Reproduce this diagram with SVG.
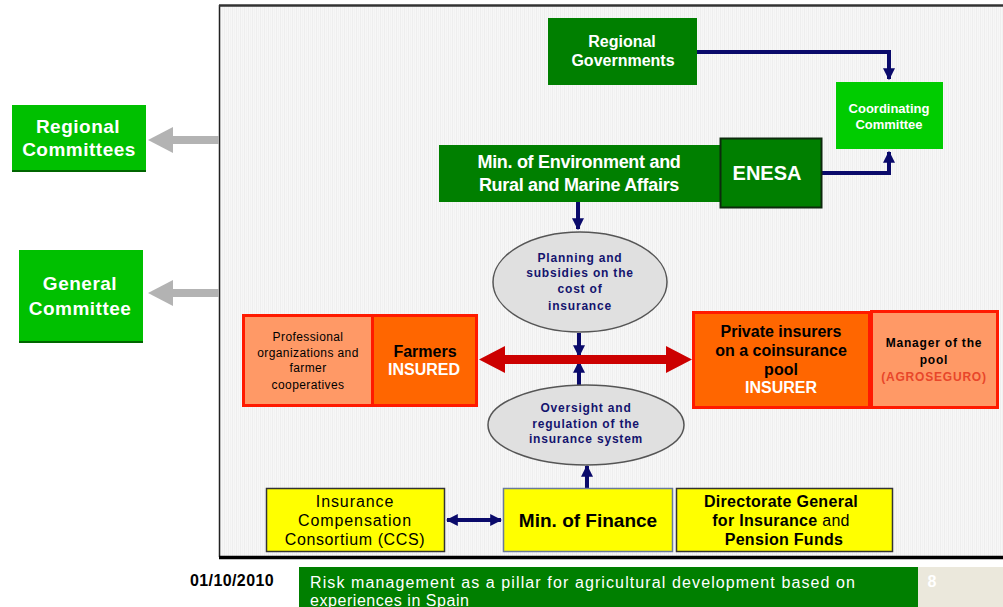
<svg xmlns="http://www.w3.org/2000/svg" width="1003" height="607" viewBox="0 0 1003 607">
  <defs>
    <pattern id="grain" width="4" height="4" patternUnits="userSpaceOnUse">
      <rect width="4" height="4" fill="#f7f7f7"/>
      <rect x="0" width="1" height="4" fill="#eeeeee"/>
      <rect x="2" width="1" height="4" fill="#f2f2f2"/>
    </pattern>
    <marker id="navyHead" viewBox="0 0 10 10" refX="9" refY="5" markerWidth="3" markerHeight="3" orient="auto-start-reverse" markerUnits="strokeWidth">
      <path d="M0,0 L10,5 L0,10 Z" fill="#0a0a6b"/>
    </marker>
    <style>
      text { font-family: "Liberation Sans", Arial, sans-serif; text-anchor: middle; }
      .w { fill: #ffffff; }
      .b { font-weight: bold; }
      .navy { fill: #14146e; font-weight: bold; font-size: 12px; letter-spacing: 0.8px; }
      .link { fill: none; stroke: #0a0a6b; stroke-width: 4; }
      .grayArrow { fill: #b3b3b3; }
      .ell { fill: #e0e0e0; stroke: #555555; stroke-width: 1.5; }
      .orangeDark { fill: #ff6600; stroke: #ff1a00; stroke-width: 3; }
      .orangeLight { fill: #ff9966; stroke: #ff1a00; stroke-width: 3; }
      .yellow { fill: #ffff00; stroke: #333333; stroke-width: 1.5; }
    </style>
  </defs>

  <rect width="1003" height="607" fill="#ffffff"/>

  <!-- main panel -->
  <rect x="219" y="5" width="790" height="552" fill="url(#grain)"/>
  <line x1="219.5" y1="5" x2="219.5" y2="557" stroke="#222222" stroke-width="1.5"/>
  <line x1="219" y1="5.5" x2="1003" y2="5.5" stroke="#333333" stroke-width="2.5"/>
  <line x1="219" y1="557.5" x2="1003" y2="557.5" stroke="#000000" stroke-width="3.5"/>

  <!-- connectors -->
  <g id="connectors">
    <!-- gray outward arrows -->
    <rect x="170" y="136" width="49" height="8" class="grayArrow"/>
    <polygon points="148,140 173,127 173,153" class="grayArrow"/>
    <rect x="170" y="289" width="49" height="8" class="grayArrow"/>
    <polygon points="148,293 173,280 173,306" class="grayArrow"/>

    <!-- to coordinating committee -->
    <polyline points="697,52 889,52 889,79" class="link" marker-end="url(#navyHead)"/>
    <polyline points="822,173 889,173 889,152" class="link" marker-end="url(#navyHead)"/>

    <!-- central vertical arrows -->
    <line x1="578" y1="202" x2="578" y2="229" class="link" marker-end="url(#navyHead)"/>
    <line x1="579" y1="333" x2="579" y2="356" class="link" marker-end="url(#navyHead)"/>
    <line x1="579" y1="385" x2="579" y2="362" class="link" marker-end="url(#navyHead)"/>
    <line x1="587" y1="488" x2="587" y2="466" class="link" marker-end="url(#navyHead)"/>

    <!-- CCS <-> Min. of Finance -->
    <line x1="447" y1="520" x2="501" y2="520" class="link" marker-start="url(#navyHead)" marker-end="url(#navyHead)"/>

    <!-- red double arrow -->
    <rect x="500" y="355" width="170" height="9" fill="#cc0000"/>
    <polygon points="479,359.5 505,346 505,373" fill="#cc0000"/>
    <polygon points="692,359.5 666,346 666,373" fill="#cc0000"/>
  </g>

  <g id="regional-committees">
    <rect x="12" y="105" width="134" height="67" fill="#00c000"/>
    <line x1="12" y1="171" x2="146" y2="171" stroke="#006600" stroke-width="2"/>
    <text x="78" y="133" class="w b" font-size="19" letter-spacing="0.5">Regional</text>
    <text x="79" y="156" class="w b" font-size="19" letter-spacing="0.5">Committees</text>
  </g>

  <g id="general-committee">
    <rect x="19" y="250" width="124" height="93" fill="#00c000"/>
    <line x1="19" y1="342" x2="143" y2="342" stroke="#006600" stroke-width="2"/>
    <text x="80" y="290" class="w b" font-size="19" letter-spacing="0.5">General</text>
    <text x="80" y="315" class="w b" font-size="19" letter-spacing="0.5">Committee</text>
  </g>

  <g id="regional-governments">
    <rect x="548" y="18" width="149" height="67" fill="#007f00"/>
    <text x="622" y="47" class="w b" font-size="16">Regional</text>
    <text x="623" y="66" class="w b" font-size="16">Governments</text>
  </g>

  <g id="coordinating-committee">
    <rect x="836" y="82" width="107" height="67" fill="#00cc00"/>
    <text x="889" y="113" class="w b" font-size="13">Coordinating</text>
    <text x="889" y="129" class="w b" font-size="13">Committee</text>
  </g>

  <g id="ministry-environment">
    <rect x="439" y="145" width="283" height="57" fill="#007f00"/>
    <text x="579" y="168" class="w b" font-size="18" letter-spacing="-0.3">Min. of Environment and</text>
    <text x="579" y="191" class="w b" font-size="18" letter-spacing="-0.3">Rural and Marine Affairs</text>
  </g>

  <g id="enesa">
    <rect x="720.5" y="138.5" width="101" height="69" fill="#007f00" stroke="#0d2b0d" stroke-width="2"/>
    <text x="767" y="180" class="w b" font-size="20">ENESA</text>
  </g>

  <g id="planning">
    <ellipse cx="580" cy="282" rx="87" ry="50" class="ell"/>
    <text x="580" y="262" class="navy">Planning and</text>
    <text x="580" y="277" class="navy">subsidies on the</text>
    <text x="580" y="293" class="navy">cost of</text>
    <text x="580" y="310" class="navy">insurance</text>
  </g>

  <g id="oversight">
    <ellipse cx="586" cy="425" rx="98" ry="40" class="ell"/>
    <text x="586" y="412" class="navy">Oversight and</text>
    <text x="586" y="428" class="navy">regulation of the</text>
    <text x="586" y="443" class="navy">insurance system</text>
  </g>

  <g id="professional-organizations">
    <rect x="243.5" y="315.5" width="129" height="90" class="orangeLight"/>
    <text x="308" y="341" font-size="12" letter-spacing="0.4">Professional</text>
    <text x="308" y="357" font-size="12" letter-spacing="0.4">organizations and</text>
    <text x="308" y="372" font-size="12" letter-spacing="0.4">farmer</text>
    <text x="308" y="389" font-size="12" letter-spacing="0.4">cooperatives</text>
  </g>

  <g id="farmers">
    <rect x="372.5" y="315.5" width="104" height="90" class="orangeDark"/>
    <text x="425" y="357" class="b" font-size="16">Farmers</text>
    <text x="424" y="375" class="w b" font-size="16">INSURED</text>
  </g>

  <g id="private-insurers">
    <rect x="693.5" y="312.5" width="176" height="95" class="orangeDark"/>
    <text x="781" y="337" class="b" font-size="16">Private insurers</text>
    <text x="781" y="356" class="b" font-size="16">on a coinsurance</text>
    <text x="781" y="375" class="b" font-size="16">pool</text>
    <text x="781" y="393" class="w b" font-size="16">INSURER</text>
  </g>

  <g id="pool-manager">
    <rect x="871.5" y="311.5" width="126" height="96" class="orangeLight"/>
    <text x="934" y="347" class="b" font-size="12" letter-spacing="0.8">Manager of the</text>
    <text x="934" y="364" class="b" font-size="12" letter-spacing="0.8">pool</text>
    <text x="934" y="381" class="b" font-size="12" letter-spacing="0.8" fill="#e8462a">(AGROSEGURO)</text>
  </g>

  <g id="ccs">
    <rect x="266.5" y="488.5" width="178" height="63" class="yellow"/>
    <text x="355" y="507" font-size="16" letter-spacing="0.9">Insurance</text>
    <text x="355" y="526" font-size="16" letter-spacing="0.9">Compensation</text>
    <text x="355" y="545" font-size="16" letter-spacing="0.6">Consortium (CCS)</text>
  </g>

  <g id="ministry-finance">
    <rect x="503.5" y="488.5" width="169" height="63" fill="#ffff00" stroke="#6a7a9a" stroke-width="1.5"/>
    <text x="588" y="527" class="b" font-size="19">Min. of Finance</text>
  </g>

  <g id="directorate-general">
    <rect x="676.5" y="488.5" width="216" height="63" class="yellow"/>
    <text x="781" y="507" class="b" font-size="16" letter-spacing="0.3">Directorate General</text>
    <text x="781" y="526" class="b" font-size="16" letter-spacing="0.3">for Insurance <tspan font-weight="normal">and</tspan></text>
    <text x="784" y="545" class="b" font-size="16" letter-spacing="0.3">Pension Funds</text>
  </g>

  <!-- footer -->
  <g id="footer">
    <text x="232" y="586" class="b" font-size="16" letter-spacing="0.4">01/10/2010</text>
    <rect x="299" y="567" width="619" height="40" fill="#007f00"/>
    <text x="310" y="588" class="w" font-size="16" style="text-anchor:start" textLength="545" lengthAdjust="spacing">Risk management as a pillar for agricultural development based on</text>
    <text x="310" y="606" class="w" font-size="16" style="text-anchor:start" textLength="159" lengthAdjust="spacing">experiences in Spain</text>
    <rect x="918" y="567" width="85" height="40" fill="#ebe8dc"/>
    <text x="932" y="587" class="w b" font-size="16">8</text>
  </g>
</svg>
